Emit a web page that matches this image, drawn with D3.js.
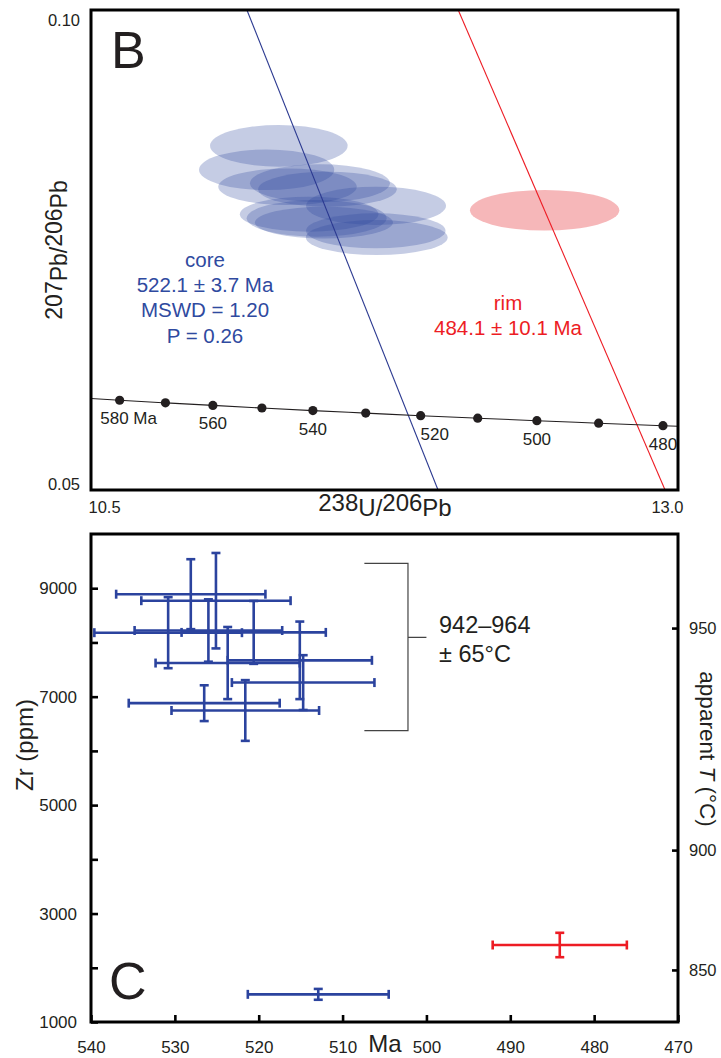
<!DOCTYPE html>
<html>
<head>
<meta charset="utf-8">
<script src="https://cdn.jsdelivr.net/npm/d3@7"></script>
<style>
  html, body { margin: 0; padding: 0; background: #fff; }
  svg { display: block; font-family: "Liberation Sans", Arial, Helvetica, sans-serif; }
</style>
</head>
<body>
<svg id="fig" width="721" height="1058"></svg>
<script>
// ---------- Panel B: Tera-Wasserburg concordia ----------
const concordiaAges       = [590, 580, 570, 560, 550, 540, 530, 520, 510, 500, 490, 480, 470];
const concordiaU238Pb206  = [10.434, 10.622, 10.817, 11.019, 11.228, 11.445, 11.670, 11.904, 12.147, 12.399, 12.662, 12.936, 13.222];
const concordiaPb207Pb206 = [0.05963, 0.05935, 0.05908, 0.05881, 0.05854, 0.05827, 0.05801, 0.05774, 0.05748, 0.05722, 0.05696, 0.05670, 0.05645];
const concordiaLabelAges  = [580, 560, 540, 520, 500, 480];

// core analyses (2-sigma ellipse half-axes)
const coreU238Pb206     = [11.300, 11.248, 11.337, 11.475, 11.507, 11.714, 11.429, 11.461, 11.492, 11.713, 11.717];
const coreU238Pb206Err  = [0.293, 0.288, 0.295, 0.298, 0.295, 0.298, 0.295, 0.298, 0.294, 0.297, 0.302];
const corePb207Pb206    = [0.08585, 0.08336, 0.08159, 0.08195, 0.08133, 0.07960, 0.07873, 0.07830, 0.07786, 0.07700, 0.07630];
const corePb207Pb206Err = [0.00217, 0.00212, 0.00191, 0.00198, 0.00182, 0.00200, 0.00182, 0.00191, 0.00165, 0.00182, 0.00182];

// rim analysis
const rimU238Pb206     = [12.432];
const rimU238Pb206Err  = [0.318];
const rimPb207Pb206    = [0.07914];
const rimPb207Pb206Err = [0.00212];

// regression lines (238U/206Pb, 207Pb/206Pb) end points
const coreDiscordiaU  = [11.164, 11.978];
const coreDiscordiaPb = [0.10, 0.05];
const rimDiscordiaU   = [12.064, 12.945];
const rimDiscordiaPb  = [0.10, 0.05];

const panelBXTicks = [10.5, 13.0];
const panelBYTicks = [0.05, 0.10];

// ---------- Panel C: Zr content vs age ----------
const coreAge    = [528.1, 525.1, 530.8, 526.0, 520.6, 523.7, 515.1, 514.7, 521.6, 526.5, 512.9];
const coreAgeErr = [8.9, 8.9, 8.8, 8.8, 8.6, 8.6, 8.6, 8.5, 8.8, 9.0, 8.4];
const coreZr     = [8890, 8770, 8180, 8220, 8185, 7620, 7670, 7260, 6745, 6880, 1510];
const coreZrErr  = [645, 880, 655, 575, 580, 665, 715, 505, 560, 330, 100];

const rimAge    = [484.1];
const rimAgeErr = [8.0];
const rimZr     = [2420];
const rimZrErr  = [225];

const ageTicks     = [540, 530, 520, 510, 500, 490, 480, 470];
const zrTicks      = [1000, 2000, 3000, 4000, 5000, 6000, 7000, 8000, 9000];
const zrLabelTicks = [1000, 3000, 5000, 7000, 9000];
const tempTickLabels = [850, 900, 950];
const tempTickZr     = [1960, 4170, 8265];

// bracket summarising the core temperatures (age, Zr)
const bracketAges = [507.4, 502.2, 500.0];
const bracketZr   = [9460, 8095, 6375];

// ---------- styling ----------
const INK = "#231f20";
const BLUE = "#2b439e";
const BLUE_TEXT = "#2f4aa0";
const RED = "#ed1c24";

const svg = d3.select("#fig");

// ===== Panel B =====
const xU = d3.scaleLinear().domain([10.5, 13.0]).range([91, 678]);
const yPb = d3.scaleLinear().domain([0.05, 0.10]).range([490, 10]);

svg.append("defs").append("clipPath").attr("id", "clipB")
  .append("rect").attr("x", 91).attr("y", 10).attr("width", 587).attr("height", 480);

const gB = svg.append("g");
const plotB = gB.append("g").attr("clip-path", "url(#clipB)");

// core ellipses
plotB.append("g").selectAll("ellipse")
  .data(coreU238Pb206.map((u, i) => ({u, ue: coreU238Pb206Err[i], p: corePb207Pb206[i], pe: corePb207Pb206Err[i]})))
  .join("ellipse")
  .attr("cx", d => xU(d.u))
  .attr("cy", d => yPb(d.p))
  .attr("rx", d => xU(d.u + d.ue) - xU(d.u))
  .attr("ry", d => yPb(d.p) - yPb(d.p + d.pe))
  .attr("fill", "#2f489e")
  .attr("fill-opacity", 0.28);

// rim ellipse
plotB.append("g").selectAll("ellipse")
  .data(rimU238Pb206.map((u, i) => ({u, ue: rimU238Pb206Err[i], p: rimPb207Pb206[i], pe: rimPb207Pb206Err[i]})))
  .join("ellipse")
  .attr("cx", d => xU(d.u))
  .attr("cy", d => yPb(d.p))
  .attr("rx", d => xU(d.u + d.ue) - xU(d.u))
  .attr("ry", d => yPb(d.p) - yPb(d.p + d.pe))
  .attr("fill", "#f4a3a5")
  .attr("fill-opacity", 0.78);

// regression lines
const lineUPb = d3.line().x(d => xU(d[0])).y(d => yPb(d[1]));
plotB.append("path")
  .attr("d", lineUPb(coreDiscordiaU.map((u, i) => [u, coreDiscordiaPb[i]])))
  .attr("fill", "none").attr("stroke", "#2b3990").attr("stroke-width", 1.1);
plotB.append("path")
  .attr("d", lineUPb(rimDiscordiaU.map((u, i) => [u, rimDiscordiaPb[i]])))
  .attr("fill", "none").attr("stroke", RED).attr("stroke-width", 1.1);

// concordia curve
const concordia = concordiaAges.map((a, i) => ({a, u: concordiaU238Pb206[i], p: concordiaPb207Pb206[i]}));
plotB.append("path")
  .attr("d", d3.line().curve(d3.curveMonotoneX).x(d => xU(d.u)).y(d => yPb(d.p))(concordia))
  .attr("fill", "none").attr("stroke", INK).attr("stroke-width", 1.1);

plotB.append("g").selectAll("circle")
  .data(concordia.filter(d => d.a >= 480 && d.a <= 580))
  .join("circle")
  .attr("cx", d => xU(d.u))
  .attr("cy", d => yPb(d.p))
  .attr("r", 4.6)
  .attr("fill", INK);

const labelShift = {580: 9, 520: 14};
gB.append("g").selectAll("text")
  .data(concordia.filter(d => concordiaLabelAges.includes(d.a)))
  .join("text")
  .attr("x", d => xU(d.u) + (labelShift[d.a] || 0))
  .attr("y", d => yPb(d.p) + 24)
  .attr("text-anchor", "middle")
  .attr("font-size", 17)
  .attr("fill", INK)
  .text(d => d.a === 580 ? "580 Ma" : d.a);

// frame
gB.append("rect")
  .attr("x", 91).attr("y", 10).attr("width", 587).attr("height", 480)
  .attr("fill", "none").attr("stroke", "#000").attr("stroke-width", 3);

// corner tick labels
const axBX = gB.append("g").attr("transform", "translate(0,490)")
  .call(d3.axisBottom(xU).tickValues(panelBXTicks).tickSize(0).tickPadding(11).tickFormat(d3.format(".1f")));
axBX.select(".domain").remove();
axBX.selectAll("text")
  .attr("font-size", 16.5).attr("fill", INK).attr("font-family", null)
  .attr("text-anchor", (d, i) => i === 0 ? "start" : "end")
  .attr("dx", (d, i) => i === 0 ? -3 : 5);

const axBY = gB.append("g").attr("transform", "translate(91,0)")
  .call(d3.axisLeft(yPb).tickValues(panelBYTicks).tickSize(0).tickPadding(11).tickFormat(d3.format(".2f")));
axBY.select(".domain").remove();
axBY.selectAll("text")
  .attr("font-size", 16.5).attr("fill", INK).attr("font-family", null)
  .attr("dy", (d, i) => i === 0 ? "-0.02em" : "0.95em");

// panel letter
gB.append("text").attr("x", 111).attr("y", 68)
  .attr("font-size", 52).attr("fill", INK).text("B");

// axis titles
const xTitle = gB.append("text").attr("x", 385).attr("y", 516)
  .attr("text-anchor", "middle").attr("font-size", 24).attr("fill", INK);
xTitle.append("tspan").attr("dy", -5).text("238");
xTitle.append("tspan").attr("dy", 5).text("U/");
xTitle.append("tspan").attr("dy", -5).text("206");
xTitle.append("tspan").attr("dy", 5).text("Pb");

const yTitle = gB.append("text")
  .attr("transform", "translate(67,250) rotate(-90)")
  .attr("text-anchor", "middle").attr("font-size", 23).attr("fill", INK);
yTitle.append("tspan").attr("dy", -5).text("207");
yTitle.append("tspan").attr("dy", 5).text("Pb/");
yTitle.append("tspan").attr("dy", -5).text("206");
yTitle.append("tspan").attr("dy", 5).text("Pb");

// age annotations
const coreText = ["core", "522.1 \u00b1 3.7 Ma", "MSWD = 1.20", "P = 0.26"];
gB.append("g").selectAll("text").data(coreText).join("text")
  .attr("x", 205).attr("y", (d, i) => 267 + i * 25.2)
  .attr("text-anchor", "middle").attr("font-size", 20.5).attr("fill", BLUE_TEXT)
  .text(d => d);

const rimText = ["rim", "484.1 \u00b1 10.1 Ma"];
gB.append("g").selectAll("text").data(rimText).join("text")
  .attr("x", 508).attr("y", (d, i) => 309.5 + i * 25.8)
  .attr("text-anchor", "middle").attr("font-size", 20.5).attr("fill", RED)
  .text(d => d);

// ===== Panel C =====
const xAge = d3.scaleLinear().domain([540, 470]).range([91, 678]);
const yZr = d3.scaleLinear().domain([1000, 10000]).range([1022, 534]);

const gC = svg.append("g");

// axes with inward ticks
const axCX = gC.append("g").attr("transform", "translate(0,1022)")
  .call(d3.axisBottom(xAge).tickValues(ageTicks).tickSize(-7).tickPadding(19).tickFormat(d3.format("d")));
const axCY = gC.append("g").attr("transform", "translate(91,0)")
  .call(d3.axisLeft(yZr).tickValues(zrTicks).tickSize(-7).tickPadding(14)
    .tickFormat(d => zrLabelTicks.includes(d) ? d : ""));
const axCT = gC.append("g").attr("transform", "translate(678,0)")
  .call(d3.axisRight(yZr).tickValues(tempTickZr).tickSize(-6).tickPadding(11)
    .tickFormat((d, i) => tempTickLabels[i]));
[axCX, axCY, axCT].forEach(ax => {
  ax.select(".domain").remove();
  ax.selectAll(".tick line").attr("stroke", "#000").attr("stroke-width", 2.6);
  ax.selectAll("text").attr("font-size", 17).attr("fill", INK).attr("font-family", null);
});
axCT.selectAll("text").attr("font-size", 16.5);

gC.append("rect")
  .attr("x", 91).attr("y", 534).attr("width", 587).attr("height", 488)
  .attr("fill", "none").attr("stroke", "#000").attr("stroke-width", 3);

// error crosses
function drawCrosses(g, ages, ageErr, zr, zrErr, color) {
  const pts = ages.map((a, i) => ({a, ae: ageErr[i], z: zr[i], ze: zrErr[i]}));
  const cap = 4.5;
  const grp = g.append("g").attr("stroke", color).attr("stroke-width", 2.6).attr("fill", "none");
  pts.forEach(d => {
    const x0 = xAge(d.a - d.ae), x1 = xAge(d.a + d.ae), xc = xAge(d.a);
    const y0 = yZr(d.z - d.ze), y1 = yZr(d.z + d.ze), yc = yZr(d.z);
    grp.append("line").attr("x1", x0).attr("x2", x1).attr("y1", yc).attr("y2", yc);
    grp.append("line").attr("x1", x0).attr("x2", x0).attr("y1", yc - cap).attr("y2", yc + cap);
    grp.append("line").attr("x1", x1).attr("x2", x1).attr("y1", yc - cap).attr("y2", yc + cap);
    grp.append("line").attr("x1", xc).attr("x2", xc).attr("y1", y0).attr("y2", y1);
    grp.append("line").attr("x1", xc - cap).attr("x2", xc + cap).attr("y1", y0).attr("y2", y0);
    grp.append("line").attr("x1", xc - cap).attr("x2", xc + cap).attr("y1", y1).attr("y2", y1);
  });
}
drawCrosses(gC, coreAge, coreAgeErr, coreZr, coreZrErr, BLUE);
drawCrosses(gC, rimAge, rimAgeErr, rimZr, rimZrErr, RED);

// bracket
const bx0 = xAge(bracketAges[0]), bx1 = xAge(bracketAges[1]), bx2 = xAge(bracketAges[2]);
const by0 = yZr(bracketZr[0]), by1 = yZr(bracketZr[1]), by2 = yZr(bracketZr[2]);
gC.append("path")
  .attr("d", `M${bx0},${by0}H${bx1}V${by2}H${bx0}M${bx1},${by1}H${bx2}`)
  .attr("fill", "none").attr("stroke", "#444").attr("stroke-width", 1.2);
gC.append("g").selectAll("text").data(["942\u2013964", "\u00b1 65\u00b0C"]).join("text")
  .attr("x", 439).attr("y", (d, i) => 633 + i * 29)
  .attr("font-size", 23.5).attr("fill", INK).text(d => d);

// panel letter and titles
gC.append("text").attr("x", 109).attr("y", 999)
  .attr("font-size", 52).attr("fill", INK).text("C");

gC.append("text").attr("x", 385).attr("y", 1052)
  .attr("text-anchor", "middle").attr("font-size", 24).attr("fill", INK).text("Ma");

gC.append("text")
  .attr("transform", "translate(33,745) rotate(-90)")
  .attr("text-anchor", "middle").attr("font-size", 24).attr("fill", INK)
  .text("Zr (ppm)");

const tTitle = gC.append("text")
  .attr("transform", "translate(700,749) rotate(90)")
  .attr("text-anchor", "middle").attr("font-size", 22.5).attr("fill", INK);
tTitle.append("tspan").text("apparent ");
tTitle.append("tspan").attr("font-style", "italic").text("T");
tTitle.append("tspan").text(" (\u00b0C)");
</script>
</body>
</html>
